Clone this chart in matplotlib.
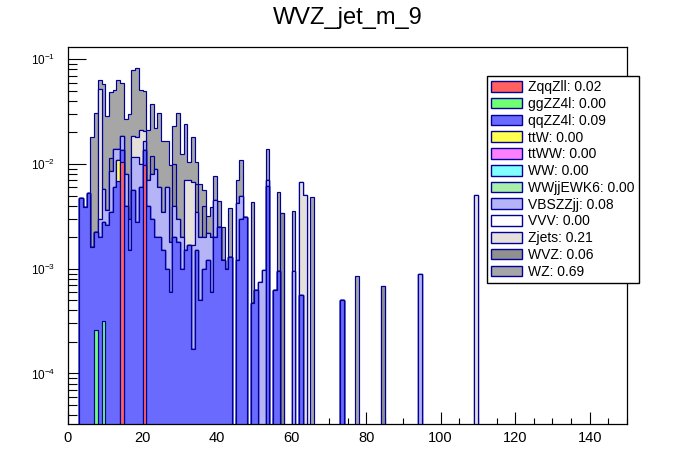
import numpy as np
import matplotlib
matplotlib.use('Agg')
import matplotlib.pyplot as plt
from matplotlib.patches import Patch
from matplotlib.ticker import MultipleLocator, LogLocator, NullFormatter, FixedLocator, FixedFormatter

plt.rcParams['font.family'] = ['Liberation Sans', 'DejaVu Sans']
plt.rcParams['mathtext.fontset'] = 'custom'
plt.rcParams['mathtext.rm'] = 'Liberation Sans'
plt.rcParams['mathtext.it'] = 'Liberation Sans:italic'
plt.rcParams['mathtext.bf'] = 'Liberation Sans:bold'

# ---------------- data ----------------
title = 'WVZ_jet_m_9'
n_bins, x_min, x_max = 150, 0, 150
samples = ['ZqqZll', 'ggZZ4l', 'qqZZ4l', 'ttW', 'ttWW', 'WW', 'WWjjEWK6',
           'VBSZZjj', 'VVV', 'Zjets', 'WVZ', 'WZ']
yields = ['0.02', '0.00', '0.09', '0.00', '0.00', '0.00', '0.00',
          '0.08', '0.00', '0.21', '0.06', '0.69']
colors = ['#ff6060', '#70ff70', '#6a6aff', '#ffff50', '#ff80ff', '#80ffff',
          '#a8f0a8', '#b4b4f6', '#ffffff', '#e6e0db', '#909090', '#a6a6a6']

# bin index -> content
zqqzll = {14: 1.05e-2, 20: 9.7e-3}
ggzz4l = {7: 2.6e-4, 9: 3.2e-4}
qqzz4l = {3: 4.7e-3, 4: 3.9e-3, 5: 5.3e-3, 6: 1.6e-3, 7: 2.0e-3, 8: 2.0e-3,
          9: 2.5e-3, 10: 2.6e-3, 11: 3.5e-3, 12: 6.0e-3, 13: 6.9e-3, 14: 3.0e-3,
          15: 4.0e-3, 16: 1.5e-3, 17: 5.6e-3, 18: 2.8e-3, 19: 6.0e-3, 20: 4.0e-3,
          21: 4.0e-3, 22: 3.0e-3, 23: 2.0e-3, 24: 2.0e-3, 25: 1.5e-3, 26: 1.0e-3,
          27: 6.0e-4, 28: 2.0e-3, 29: 1.8e-3, 30: 1.0e-3, 31: 1.5e-3, 32: 1.7e-3,
          33: 1.7e-4, 34: 1.5e-3, 35: 5.0e-4, 36: 1.0e-3, 37: 1.2e-3, 38: 6.0e-4,
          39: 2.0e-3, 40: 2.5e-3, 41: 1.2e-3, 42: 1.0e-3, 43: 1.3e-3,
          45: 1.2e-3, 46: 3.0e-3, 47: 3.1e-3, 49: 4.7e-4, 50: 6.3e-4, 53: 6.1e-3,
          55: 6.3e-4, 56: 9.6e-4, 62: 5.6e-4, 73: 5.0e-4}
ttw = {13: 4.1e-3}
ttww = {}
ww = {}
wwjjewk6 = {}
vbszzjj = {8: 1.0e-3, 9: 3.0e-3, 10: 1.0e-3, 11: 5.0e-3, 12: 8.0e-3, 13: 3.0e-3,
           14: 5.0e-3, 15: 4.0e-3, 16: 1.5e-3, 17: 6.0e-3, 18: 8.9e-3, 19: 4.0e-3,
           20: 3.0e-3, 21: 3.0e-3, 22: 5.0e-3, 23: 7.0e-3, 24: 4.0e-3, 25: 2.0e-3,
           26: 5.0e-3, 27: 1.2e-3, 28: 2.0e-3, 29: 1.2e-3, 30: 1.0e-3, 33: 1.5e-3,
           34: 2.0e-3, 35: 1.5e-3, 36: 1.0e-3, 37: 1.0e-3, 38: 1.4e-3, 39: 2.5e-3,
           45: 3.0e-3, 46: 2.0e-3, 51: 7.4e-4, 52: 9.8e-4, 53: 1.0e-3, 60: 9.6e-4,
           94: 8.9e-4}
vvv = {}
zjets = {8: 4.9e-2, 17: 6.8e-3, 18: 6.3e-3, 19: 1.1e-2, 20: 4.0e-3, 31: 5.5e-3,
         32: 5.3e-3, 33: 5.0e-3, 62: 6.2e-3, 63: 5.1e-3, 109: 5.1e-3}
wvz = {11: 3.0e-3, 22: 4.0e-3, 28: 6.0e-3, 34: 3.0e-3, 36: 2.0e-3, 57: 3.4e-3,
       84: 6.9e-4}
wz = {6: 1.64e-2, 7: 2.87e-2, 8: 1.2e-2, 9: 5.2e-2, 10: 2.54e-2, 11: 3.75e-2,
      12: 3.7e-2, 13: 4.9e-2, 14: 4.05e-2, 15: 1.9e-2, 16: 2.7e-2, 17: 6.06e-2,
      18: 6.4e-2, 19: 3.0e-2, 20: 2.93e-2, 21: 1.4e-2, 22: 2.5e-2, 23: 1.3e-2,
      24: 2.5e-2, 25: 1.3e-2, 26: 1.05e-2, 27: 8.0e-3, 28: 1.3e-2, 29: 2.8e-2,
      30: 1.04e-2, 31: 1.7e-2, 32: 3.5e-3, 33: 1.13e-2, 34: 4.0e-3, 35: 4.4e-3,
      36: 1.6e-3, 37: 1.0e-3, 38: 1.9e-3, 39: 3.2e-3, 40: 1.9e-3, 41: 1.3e-3,
      43: 2.5e-3, 45: 2.8e-3, 46: 6.0e-3, 49: 3.9e-3, 53: 6.7e-3, 56: 4.4e-3,
      60: 2.6e-3, 65: 4.8e-3, 77: 8.5e-4}

components = [zqqzll, ggzz4l, qqzz4l, ttw, ttww, ww, wwjjewk6,
              vbszzjj, vvv, zjets, wvz, wz]
y_min, y_max = 3.29e-5, 0.131

# ---------------- figure ----------------
W, H = 696, 472
fig = plt.figure(figsize=(W / 100, H / 100), dpi=100)
ax = fig.add_axes([68 / W, 1 - 424 / H, (627 - 68) / W, (424 - 47) / H])

edges = np.linspace(x_min, x_max, n_bins + 1)
hists = []
for comp in components:
    h = np.zeros(n_bins)
    for b, v in comp.items():
        h[b] = v
    hists.append(h)
cum = np.cumsum(np.array(hists), axis=0)
floor = 1e-8
edge_col = '#000099'
for i in range(len(samples) - 1, -1, -1):
    vals = np.where(cum[i] > 0, cum[i], floor)
    ax.stairs(vals, edges, baseline=floor, fill=True, facecolor=colors[i],
              edgecolor=edge_col, linewidth=0.85, zorder=2 + (len(samples) - i) * 0.01)

ax.set_yscale('log')
ax.set_xlim(x_min, x_max)
ax.set_ylim(y_min, y_max)

ax.xaxis.set_major_locator(MultipleLocator(20))
ax.xaxis.set_minor_locator(MultipleLocator(5))
ax.yaxis.set_major_locator(FixedLocator([1e-4, 1e-3, 1e-2, 1e-1]))
ax.yaxis.set_major_formatter(FixedFormatter([r'$10^{-4}$', r'$10^{-3}$', r'$10^{-2}$', r'$10^{-1}$']))
ax.yaxis.set_minor_locator(LogLocator(base=10, subs=np.arange(2, 10), numticks=20))
ax.yaxis.set_minor_formatter(NullFormatter())

ax.tick_params(axis='both', which='both', direction='in', top=False, right=False,
               width=0.8, color='black')
ax.tick_params(axis='y', which='major', length=13, pad=9, labelsize=8.5)
ax.tick_params(axis='y', which='minor', length=6.5)
ax.tick_params(axis='x', which='major', length=8.5, pad=5, labelsize=10.5)
ax.tick_params(axis='x', which='minor', length=4)
for sp in ax.spines.values():
    sp.set_linewidth(0.9)
    sp.set_zorder(10)

fig.text(348 / W, 1 - 18 / H, title, ha='center', va='center', fontsize=17)

handles = [Patch(facecolor=c, edgecolor=edge_col, linewidth=1) for c in colors]
labels = [f'{s}: {y}' for s, y in zip(samples, yields)]
leg = fig.legend(handles, labels, loc='upper left',
                 bbox_to_anchor=(487 / W, 1 - 76 / H), bbox_transform=fig.transFigure,
                 fontsize=10, frameon=True, fancybox=False, framealpha=1,
                 edgecolor='black', borderpad=0.3, labelspacing=0.2,
                 handlelength=2.2, handleheight=0.8, handletextpad=0.45,
                 borderaxespad=0)
leg.get_frame().set_linewidth(1)

fig.savefig('out.png', dpi=100)
